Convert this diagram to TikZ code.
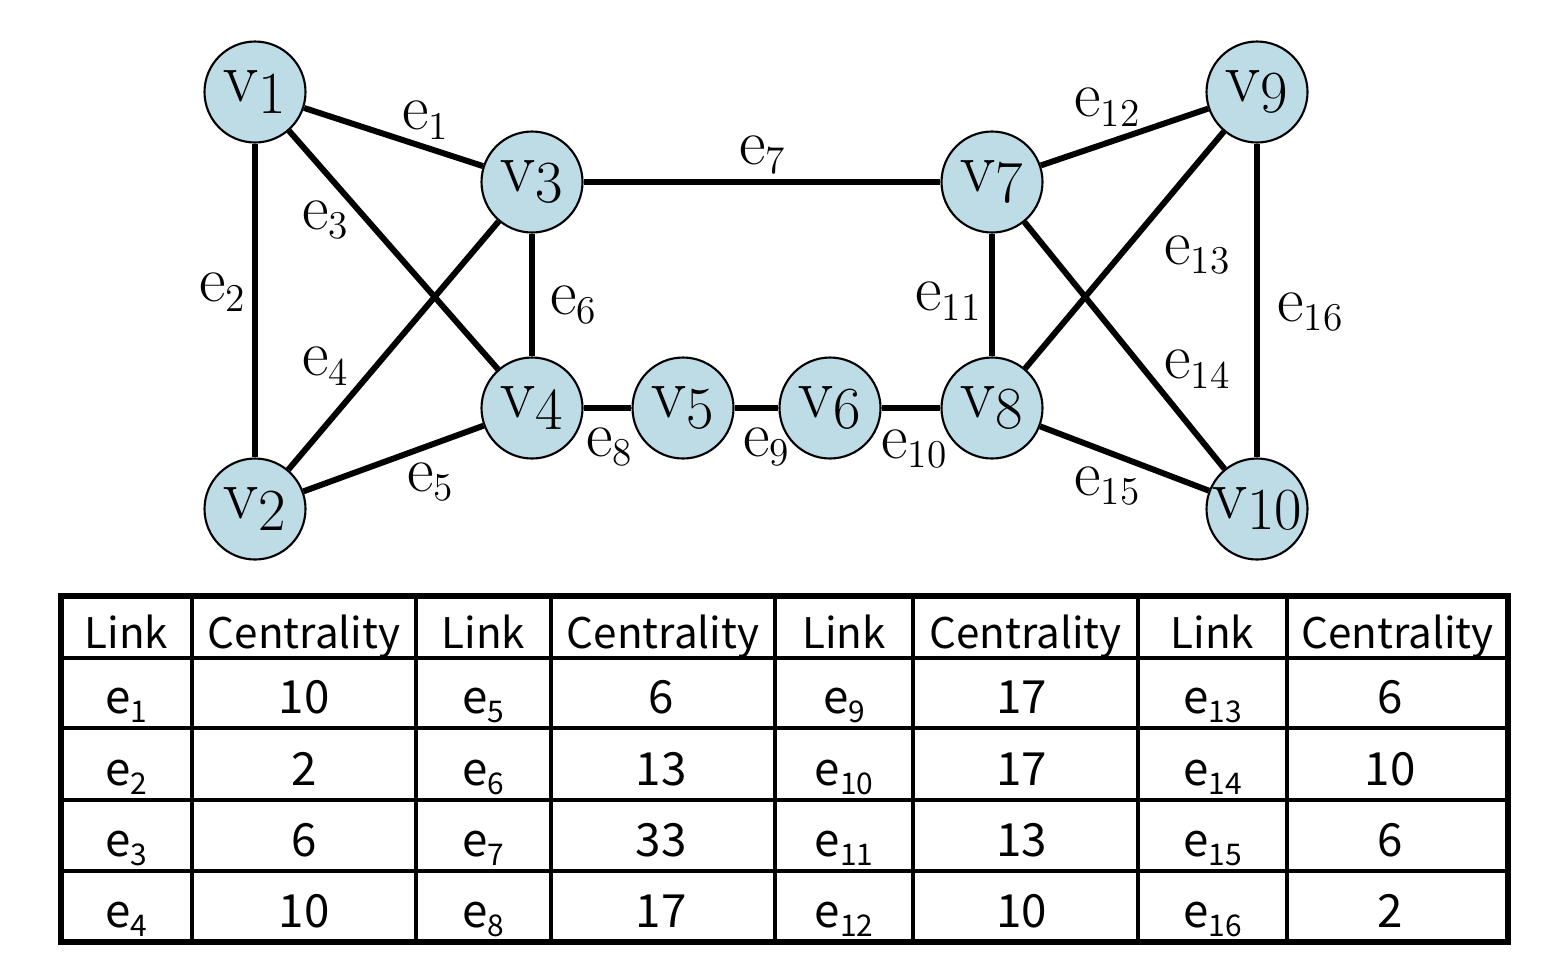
\documentclass[tikz,border=0pt]{standalone}
\usepackage{fontspec}
\newfontfamily\tabfont{Noto Sans CJK SC}
\usepackage{xcolor}
\usepackage{tikz}
\usetikzlibrary{positioning}

\definecolor{vertexblue}{RGB}{190,220,230}

% vertex, edge and table labels
\newcommand{\vlab}[1]{{\fontsize{20.5}{20.5}\selectfont v}\raisebox{-3.3pt}{\fontsize{17}{17}\selectfont #1}}
\newcommand{\elab}[1]{{\fontsize{18.5}{18.5}\selectfont e}\raisebox{-2.8pt}{\fontsize{11.2}{11.2}\selectfont #1}}
\newcommand{\tlab}[1]{e\raisebox{-2.8pt}{\fontsize{8.5}{8.5}\selectfont #1}}

\begin{document}
\begin{tikzpicture}[
  vertex/.style={circle, draw, line width=0.6pt, fill=vertexblue, minimum size=1.01cm, inner sep=0pt},
  elabel/.style={inner sep=0pt},
  link/.style={line width=1.7pt},
  vlink/.style={line width=1.5pt},
  cell/.style={anchor=base, inner sep=0pt, font=\tabfont\fontsize{13}{13}\selectfont},
  head/.style={cell, font=\tabfont\fontsize{12}{12}\selectfont},
]
\useasboundingbox (0,0) rectangle (15.42,-9.66);

% Vertices
\node[vertex] (v1)  at (2.55,-0.92)  {\vlab{1}};
\node[vertex] (v2)  at (2.55,-5.09)  {\vlab{2}};
\node[vertex] (v3)  at (5.32,-1.82)  {\vlab{3}};
\node[vertex] (v4)  at (5.32,-4.08)  {\vlab{4}};
\node[vertex] (v5)  at (6.83,-4.08)  {\vlab{5}};
\node[vertex] (v6)  at (8.30,-4.08)  {\vlab{6}};
\node[vertex] (v7)  at (9.92,-1.82)  {\vlab{7}};
\node[vertex] (v8)  at (9.92,-4.08)  {\vlab{8}};
\node[vertex] (v9)  at (12.57,-0.92) {\vlab{9}};
\node[vertex] (v10) at (12.57,-5.09) {\vlab{10}};

% Edges
\draw[link]  (v1) -- (v3);
\draw[vlink] (v1) -- (v2);
\draw[link]  (v1) -- (v4);
\draw[link]  (v2) -- (v3);
\draw[link]  (v2) -- (v4);
\draw[vlink] (v3) -- (v4);
\draw[link]  (v3) -- (v7);
\draw[link]  (v4) -- (v5);
\draw[link]  (v5) -- (v6);
\draw[link]  (v6) -- (v8);
\draw[vlink] (v7) -- (v8);
\draw[link]  (v7) -- (v9);
\draw[link]  (v8) -- (v9);
\draw[link]  (v7) -- (v10);
\draw[link]  (v8) -- (v10);
\draw[vlink] (v9) -- (v10);

% Edge labels
\node[elabel] (e1)  at (4.25,-1.20) {\elab{1}};
\node[elabel] (e2)  at (2.22,-2.92) {\elab{2}};
\node[elabel] (e3)  at (3.25,-2.20) {\elab{3}};
\node[elabel] (e4)  at (3.25,-3.66) {\elab{4}};
\node[elabel] (e5)  at (4.30,-4.82) {\elab{5}};
\node[elabel] (e6)  at (5.73,-3.05) {\elab{6}};
\node[elabel] (e7)  at (7.62,-1.55) {\elab{7}};
\node[elabel] (e8)  at (6.09,-4.47) {\elab{8}};
\node[elabel] (e9)  at (7.66,-4.47) {\elab{9}};
\node[elabel] (e10) at (9.14,-4.49) {\elab{10}};
\node[elabel] (e11) at (9.48,-3.01) {\elab{11}};
\node[elabel] (e12) at (11.07,-1.07) {\elab{12}};
\node[elabel] (e13) at (11.97,-2.55) {\elab{13}};
\node[elabel] (e14) at (11.97,-3.69) {\elab{14}};
\node[elabel] (e15) at (11.07,-4.86) {\elab{15}};
\node[elabel] (e16) at (13.10,-3.12) {\elab{16}};

% Table grid
\draw[line width=1.2pt] (0.61,-6.58) -- (15.08,-6.58);
\foreach \y in {-7.28,-8.00,-8.71}
  \draw[line width=1.2pt] (0.61,\y) -- (15.08,\y);
\foreach \x in {1.92,4.16,5.51,7.75,9.13,11.38,12.87}
  \draw[line width=1.2pt] (\x,-5.96) -- (\x,-9.42);
\draw[line width=1.8pt] (0.61,-5.96) rectangle (15.08,-9.42);

% Table header
\foreach \x/\n in {1.265/1,4.835/2,8.44/3,12.125/4}
  \node[head] (hl\n) at (\x,-6.48) {Link};
\foreach \x/\n in {3.04/1,6.63/2,10.255/3,13.975/4}
  \node[head] (hc\n) at (\x,-6.48) {Centrality};

% Table body
\foreach \x/\y/\k/\c in {
  1.265/-7.13/1/10,  1.265/-7.85/2/2,  1.265/-8.56/3/6,  1.265/-9.27/4/10,
  4.835/-7.13/5/6,   4.835/-7.85/6/13, 4.835/-8.56/7/33, 4.835/-9.27/8/17,
  8.44/-7.13/9/17,   8.44/-7.85/10/17, 8.44/-8.56/11/13, 8.44/-9.27/12/10,
  12.125/-7.13/13/6, 12.125/-7.85/14/10, 12.125/-8.56/15/6, 12.125/-9.27/16/2}
{
  \node[cell] (tl\k) at (\x,\y) {\tlab{\k}};
  \node[cell, right=1.775cm of tl\k.base, anchor=base] (tc\k) {\c};
}

\end{tikzpicture}
\end{document}
